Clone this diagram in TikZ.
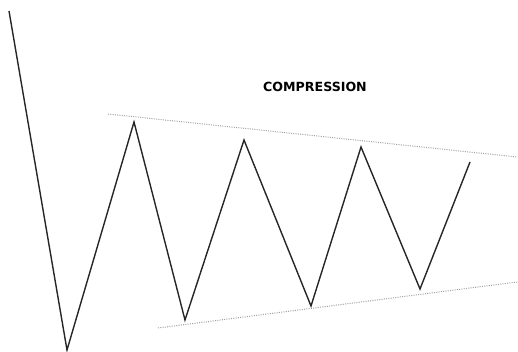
\documentclass[tikz,border=0pt]{standalone}
\usepackage{fontspec}
\setmainfont{DejaVu Sans}
\begin{document}
\begin{tikzpicture}[x=1pt,y=-1pt,
  zig/.style={line width=1.4pt, black!85, line join=miter},
  trend/.style={gray!75, line width=1pt, dash pattern=on 1pt off 1.3pt},
  lbl/.style={font=\bfseries\fontsize{12.6}{14}\selectfont, inner sep=0pt}]
\useasboundingbox (0,0) rectangle (518,352);
\coordinate (s) at (9,11);
\coordinate (l0) at (67,350);
\coordinate (p1) at (134,122);
\coordinate (t1) at (185,320);
\coordinate (p2) at (244,140);
\coordinate (t2) at (311,306);
\coordinate (p3) at (361,147);
\coordinate (t3) at (420,289);
\coordinate (e) at (470,162);
\coordinate (ua) at (108,114);
\coordinate (ub) at (517,157);
\coordinate (la) at (158,328);
\coordinate (lb) at (517,282);
\draw[zig] (s) -- (l0) -- (p1) -- (t1) -- (p2) -- (t2) -- (p3) -- (t3) -- (e);
\draw[trend] (ua) -- (ub);
\draw[trend] (la) -- (lb);
\node[lbl] (title) at (315,87) {COMPRESSION};
\end{tikzpicture}
\end{document}
